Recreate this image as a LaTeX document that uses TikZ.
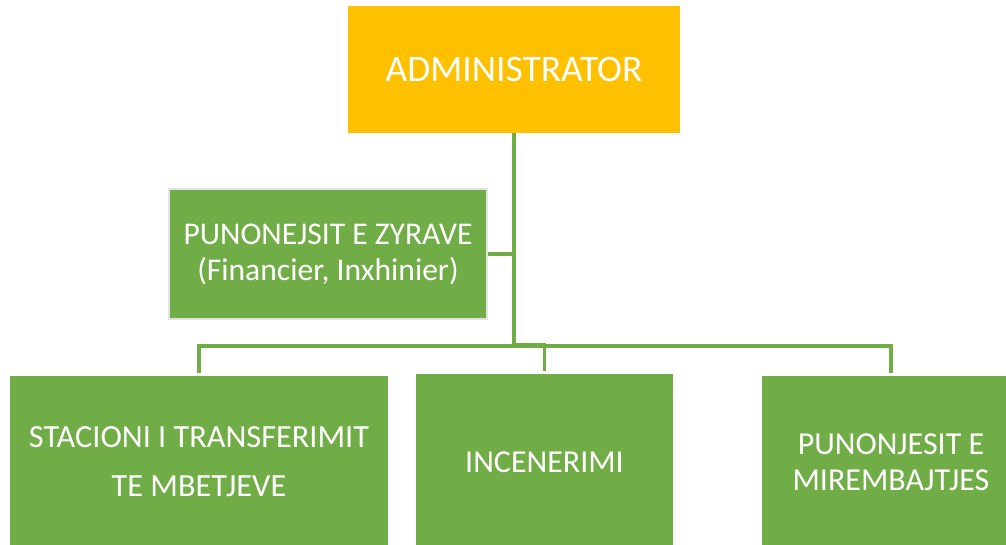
\documentclass[tikz,border=0pt]{standalone}
\usepackage{fontspec}
\setmainfont{Carlito}
\definecolor{gold}{HTML}{FFC000}
\definecolor{leaf}{HTML}{70AD47}
\definecolor{rim}{HTML}{E2E2E2}
\begin{document}
\begin{tikzpicture}[x=1pt,y=-1pt,
  box/.style={rectangle, inner sep=0pt, text=white, align=center},
  link/.style={draw=leaf, line width=3.2pt}]
\useasboundingbox (0,0) rectangle (1006,544);
\node[box, fill=gold, minimum width=332pt, minimum height=127pt,
  font=\fontsize{37.5}{44}\selectfont] (admin) at (514,69.5) {ADMINISTRATOR};
\node[box, fill=leaf, draw=rim, line width=2pt, minimum width=318pt, minimum height=130pt,
  font=\fontsize{31.6}{36}\selectfont] (office) at (328,254) {PUNONEJSIT E ZYRAVE\\(Financier, Inxhinier)};
\node[box, fill=leaf, minimum width=378pt, minimum height=172pt,
  font=\fontsize{32.3}{49}\selectfont] (left) at (199,462) {STACIONI I TRANSFERIMIT\\TE MBETJEVE};
\node[box, fill=leaf, minimum width=257pt, minimum height=176pt,
  font=\fontsize{32}{37}\selectfont] (mid) at (544.5,462) {INCENERIMI};
\node[box, fill=leaf, minimum width=258pt, minimum height=172pt,
  font=\fontsize{32}{36}\selectfont] (right) at (891,462) {PUNONJESIT E\\MIREMBAJTJES};
\coordinate (bus) at (514,346);
\draw[link] (admin.south) -- (bus);
\draw[link] (office.east) -- (office.east -| admin.south);
\draw[link] (bus) -| ([yshift=3pt]left.north);
\draw[link] ([yshift=1.5pt]bus) -| ([yshift=3pt]mid.north);
\draw[link] (bus) -| ([yshift=3pt]right.north);
\end{tikzpicture}
\end{document}
